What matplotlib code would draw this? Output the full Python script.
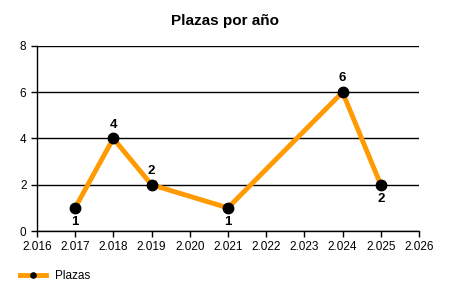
import matplotlib
matplotlib.use("Agg")
import matplotlib.pyplot as plt

plt.rcParams['font.family'] = ['Liberation Sans', 'DejaVu Sans']

# data
years = [2017, 2018, 2019, 2021, 2024, 2025]
plazas = [1, 4, 2, 1, 6, 2]
label_pos = ['below', 'above', 'above', 'below', 'above', 'below']
xticks = list(range(2016, 2027))
xtick_labels = ['2.%03d' % (y - 2000) for y in xticks]
yticks = [0, 2, 4, 6, 8]

fig = plt.figure(figsize=(4.5, 3), dpi=100)
ax = fig.add_axes([0.082, 0.23, 0.849, 0.617])

ax.plot(years, plazas, color='#FF9A00', lw=3.5, marker='o', ms=7.5,
        mfc='black', mec='black', zorder=3, label='Plazas', solid_joinstyle='miter')

for x, y, p in zip(years, plazas, label_pos):
    dy = 10 if p == 'above' else -10
    ax.annotate(str(y), (x, y), xytext=(0, dy), textcoords='offset points',
                ha='center', va='center', fontsize=9.5, fontweight='bold')

ax.set_xlim(2016, 2026)
ax.set_ylim(0, 8)
ax.set_xticks(xticks)
ax.set_xticklabels(xtick_labels)
ax.set_yticks(yticks)
ax.tick_params(axis='both', labelsize=8.5, length=4, width=1, color='black')
ax.yaxis.grid(True, color='black', lw=1)
ax.set_axisbelow(True)
for s in ['top', 'right']:
    ax.spines[s].set_visible(False)
for s in ['left', 'bottom']:
    ax.spines[s].set_linewidth(1)

fig.suptitle('Plazas por año', x=0.5, y=0.955, fontsize=11, fontweight='bold')

leg = fig.legend(loc='lower left', bbox_to_anchor=(0.02, 0.025), frameon=False,
                 fontsize=8.5, handlelength=2.2, markerscale=0.5)
plt.savefig('out.png', dpi=100)
